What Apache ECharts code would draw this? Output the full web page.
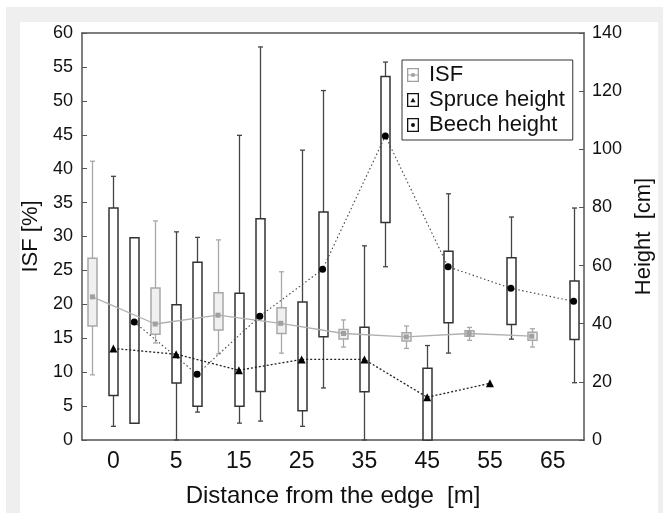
<!DOCTYPE html>
<html>
<head>
<meta charset="utf-8">
<script src="https://cdn.jsdelivr.net/npm/echarts@6/dist/echarts.min.js"></script>
<style>
html,body{margin:0;padding:0;background:#fff;}
#frame{position:absolute;left:6px;top:7px;width:657px;height:506px;background:#efefef;}
#inner{position:absolute;left:20px;top:22px;width:638px;height:491px;background:#fff;}
#chart{position:absolute;left:0;top:0;width:663px;height:513px;}
</style>
</head>
<body>
<div id="frame"></div>
<div id="inner"></div>
<div id="chart"></div>
<script>
// ---- data ----
const categories = ['0', '5', '15', '25', '35', '45', '55', '65'];
// ISF [%]
const isfMax  = [41.1, 32.3, 29.5, 24.8, 17.7, 16.8, 16.6, 16.4];
const isfQ3   = [26.8, 22.4, 21.7, 19.5, 16.3, 15.8, 16.1, 15.9];
const isfMean = [21.1, 17.1, 18.4, 17.2, 15.7, 15.2, 15.7, 15.3];
const isfQ1   = [16.8, 15.6, 16.2, 15.7, 14.9, 14.6, 15.3, 14.7];
const isfMin  = [9.6, 14.3, 12.7, 12.8, 13.7, 13.5, 14.7, 13.7];
// Spruce height [cm]
const spruceMax  = [90.7, 71.6, 104.8, 99.7, 66.8, 32.5];
const spruceQ3   = [79.8, 46.5, 50.5, 47.5, 38.8, 24.7];
const spruceMean = [31.5, 29.5, 24.0, 27.7, 27.7, 14.7, 19.5];
const spruceQ1   = [15.3, 19.6, 11.6, 10.1, 16.6, 0];
const spruceMin  = [4.7, 0, 5.8, 4.7, 0, 0];
// Beech height [cm]
const beechMax  = [69.6, 69.7, 135.2, 120.2, 130.0, 84.7, 76.7, 79.8];
const beechQ3   = [69.6, 61.1, 76.1, 78.4, 125.0, 64.9, 62.7, 54.7];
const beechMean = [40.6, 22.6, 42.6, 58.7, 104.6, 59.6, 52.2, 47.7];
const beechQ1   = [5.8, 11.6, 16.7, 35.5, 74.8, 40.3, 39.7, 34.6];
const beechMin  = [5.8, 9.6, 6.5, 17.9, 59.6, 29.9, 34.7, 19.7];

// ---- layout helpers ----
const OFF_ISF = -1/3, OFF_SPRUCE = 0, OFF_BEECH = 1/3;
function boxData(off, mn, q1, q3, mx) {
  return mx.map((v, i) => [i + off, mn[i], q1[i], q3[i], v]);
}
function lineData(off, arr) {
  return arr.map((v, i) => [i + off, v]);
}
function boxRender(width, stroke, fill, whisk) {
  return function (params, api) {
    const x = api.value(0);
    const lo = api.coord([x, api.value(1)]);
    const q1 = api.coord([x, api.value(2)]);
    const q3 = api.coord([x, api.value(3)]);
    const hi = api.coord([x, api.value(4)]);
    const cx = Math.round(lo[0]) + 0.5;
    const hw = width / 2, cw = 2.5;
    const ls = { stroke: whisk, lineWidth: 1.3 };
    return {
      type: 'group',
      children: [
        { type: 'line', shape: { x1: cx, y1: hi[1], x2: cx, y2: q3[1] }, style: ls },
        { type: 'line', shape: { x1: cx, y1: q1[1], x2: cx, y2: lo[1] }, style: ls },
        { type: 'line', shape: { x1: cx - cw, y1: hi[1], x2: cx + cw, y2: hi[1] }, style: ls },
        { type: 'line', shape: { x1: cx - cw, y1: lo[1], x2: cx + cw, y2: lo[1] }, style: ls },
        { type: 'rect', shape: { x: cx - hw, y: q3[1], width: width, height: q1[1] - q3[1] },
          style: { fill: fill, stroke: stroke, lineWidth: 1.5 } }
      ]
    };
  };
}

const FONT = 'Liberation Sans, Arial, Helvetica, sans-serif';
const ring = 'M0 0H12V14H0Z M1.3 1.3V12.7H10.7V1.3Z ';
const iconISF = 'path://' + ring + 'M4.2 5.2H7.8V8.8H4.2Z M1.3 6.6H10.7V7.4H1.3Z';
const iconSpruce = 'path://' + ring + 'M6 4.8L8.6 9.2L3.4 9.2Z';
const iconBeech = 'path://' + ring + 'M4 7A2 2 0 1 0 8 7A2 2 0 1 0 4 7Z';

const axisLineStyle = { color: '#555', width: 1.5 };
const yLabelStyle = { color: '#111', fontSize: 18, fontFamily: FONT };
const xLabelStyle = { color: '#111', fontSize: 23, fontFamily: FONT };

const chart = echarts.init(document.getElementById('chart'), null, { renderer: 'canvas' });
chart.setOption({
  backgroundColor: 'transparent',
  animation: false,
  textStyle: { fontFamily: FONT },
  grid: { left: 82, right: 78, top: 33, bottom: 70, containLabel: false },
  legend: {
    orient: 'vertical',
    left: 402, top: 60,
    padding: [4, 8, 4, 5],
    itemGap: 3,
    itemWidth: 12, itemHeight: 15,
    backgroundColor: '#fff',
    borderColor: '#333', borderWidth: 1,
    textStyle: { fontSize: 22, color: '#111', fontFamily: FONT, padding: [0, 0, 0, 5] },
    data: [
      { name: 'ISF', icon: iconISF, itemStyle: { color: '#a0a0a0' } },
      { name: 'Spruce height', icon: iconSpruce, itemStyle: { color: '#111' } },
      { name: 'Beech height', icon: iconBeech, itemStyle: { color: '#111' } }
    ]
  },
  xAxis: [
    {
      type: 'category', data: categories, position: 'bottom', boundaryGap: true,
      axisLine: { onZero: false, lineStyle: axisLineStyle },
      axisTick: { inside: true, alignWithLabel: true, length: 5, lineStyle: { color: '#555' } },
      axisLabel: Object.assign({ margin: 10, interval: 0 }, xLabelStyle),
      splitLine: { show: false },
      name: 'Distance from the edge  [m]', nameLocation: 'middle', nameGap: 44,
      nameTextStyle: { fontSize: 24, color: '#111', fontFamily: FONT }
    },
    {
      type: 'category', data: categories, position: 'top', boundaryGap: true,
      axisLine: { onZero: false, lineStyle: axisLineStyle },
      axisTick: { inside: true, alignWithLabel: true, length: 5, lineStyle: { color: '#555' } },
      axisLabel: { show: false },
      splitLine: { show: false }
    },
    {
      type: 'value', min: -0.5, max: 7.5, show: false,
      axisLine: { show: false, onZero: false }
    }
  ],
  yAxis: [
    {
      type: 'value', min: 0, max: 60, interval: 5, position: 'left',
      axisLine: { show: true, onZero: false, lineStyle: axisLineStyle },
      axisTick: { show: true, inside: true, length: 5, lineStyle: { color: '#555' } },
      axisLabel: Object.assign({ margin: 9 }, yLabelStyle),
      splitLine: { show: false },
      name: 'ISF [%]', nameLocation: 'middle', nameGap: 36, nameRotate: 90,
      nameTextStyle: { fontSize: 22, color: '#111', fontFamily: FONT }
    },
    {
      type: 'value', min: 0, max: 140, interval: 20, position: 'right',
      axisLine: { show: true, onZero: false, lineStyle: axisLineStyle },
      axisTick: { show: true, inside: true, length: 5, lineStyle: { color: '#555' } },
      axisLabel: Object.assign({ margin: 8 }, yLabelStyle),
      splitLine: { show: false },
      name: 'Height  [cm]', nameLocation: 'middle', nameGap: 45, nameRotate: 90,
      nameTextStyle: { fontSize: 22, color: '#111', fontFamily: FONT }
    }
  ],
  series: [
    {
      type: 'custom', name: 'isfBox', xAxisIndex: 2, yAxisIndex: 0, z: 2,
      renderItem: boxRender(9, '#a8a8a8', '#f0f0f0', '#a8a8a8'),
      data: boxData(OFF_ISF, isfMin, isfQ1, isfQ3, isfMax)
    },
    {
      type: 'custom', name: 'spruceBox', xAxisIndex: 2, yAxisIndex: 1, z: 2,
      renderItem: boxRender(9, '#333', '#fff', '#444'),
      data: boxData(OFF_SPRUCE, spruceMin, spruceQ1, spruceQ3, spruceMax)
    },
    {
      type: 'custom', name: 'beechBox', xAxisIndex: 2, yAxisIndex: 1, z: 2,
      renderItem: boxRender(9, '#333', '#fff', '#444'),
      data: boxData(OFF_BEECH, beechMin, beechQ1, beechQ3, beechMax)
    },
    {
      type: 'line', name: 'ISF', xAxisIndex: 2, yAxisIndex: 0, z: 5,
      data: lineData(OFF_ISF, isfMean),
      lineStyle: { color: '#b0b0b0', width: 1.3, type: 'solid' },
      itemStyle: { color: '#a0a0a0' },
      symbol: 'rect', symbolSize: 5
    },
    {
      type: 'line', name: 'Spruce height', xAxisIndex: 2, yAxisIndex: 1, z: 5,
      data: lineData(OFF_SPRUCE, spruceMean),
      lineStyle: { color: '#222', width: 1.3, type: [2, 2] },
      itemStyle: { color: '#000' },
      symbol: 'triangle', symbolSize: 8
    },
    {
      type: 'line', name: 'Beech height', xAxisIndex: 2, yAxisIndex: 1, z: 5,
      data: lineData(OFF_BEECH, beechMean),
      lineStyle: { color: '#444', width: 1.1, type: [1.5, 2.5] },
      itemStyle: { color: '#000' },
      symbol: 'circle', symbolSize: 7
    }
  ]
});
</script>
</body>
</html>
